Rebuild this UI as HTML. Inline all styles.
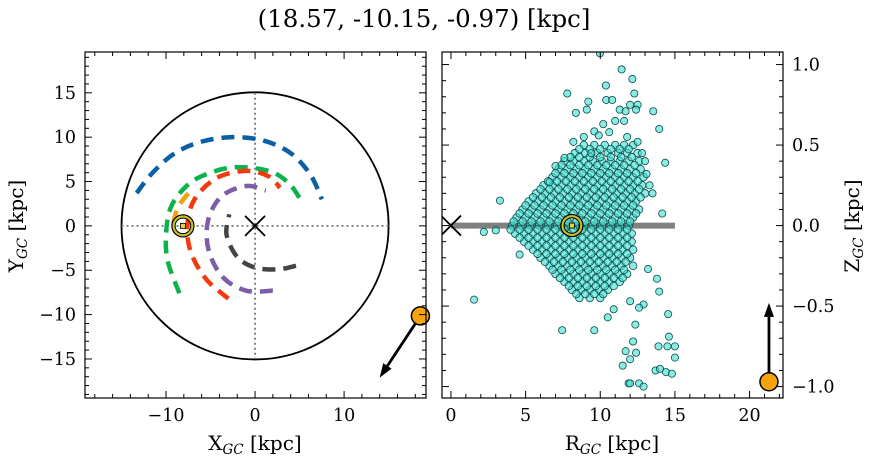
<!DOCTYPE html>
<html><head><meta charset="utf-8"><style>
html,body{margin:0;padding:0;background:#fff;}
svg{display:block;font-family:"DejaVu Serif","Liberation Serif",serif;}
</style></head><body>
<svg id="fig" width="874" height="464" viewBox="0 0 874 464">
<text x="424" y="27" text-anchor="middle" font-size="24.5">(18.57, -10.15, -0.97) [kpc]</text>
<g id="left"></g>
<g id="right"></g>
</svg>
<script>
// ---- data: left panel orbits (x,y in kpc) ----
const orbitBlue = [[-13.3,3.7],[-11.5,6],[-9,8.2],[-6,9.5],[-2.5,10],[1,9.6],[4,8.2],[6.2,5.8],[7.5,3]];
const orbitGreen = [[-8.5,-7.6],[-9.8,-4],[-10,-1],[-9.5,2],[-8,4.2],[-6,5.6],[-2.5,6.6],[1.5,6.2],[3.8,4.8],[5.2,2.8]];
const orbitRed = [[-3,-8.2],[-5.5,-6],[-7.2,-3],[-7.6,0],[-6.8,3],[-4.3,5.4],[-1,6.2],[1.5,5.6],[2.8,4.3]];
const orbitPurple = [[2,-7.3],[-1,-7.3],[-3.6,-5.8],[-5.2,-2.8],[-5.3,0.5],[-3.8,3.3],[-1,4.5],[1.2,4]];
const orbitGray = [[4.6,-4.5],[2.5,-4.9],[0,-4.7],[-2,-3.5],[-3.2,-1],[-2.9,1.3]];
const orbitOrange = [[-9.2,0.3],[-8.6,2.2],[-7.3,3.9]];
const sunXY = [-8.1, 0];
const targetXY = [18.57, -10.15];
const arrowXY = [14.0, -17.1];
const targetRZ = [21.3, -0.97];
const arrowRZ = [21.3, -0.48];
const diskR = 15;
// ---- scatter: outliers ----
const outR = [9.98,11.43,12.15,7.79,10.38,12.28,9.2,10.4,10.8,12.0,12.5,12.4,8.37,9.1,11.3,11.7,13.55,13.95,9.6,11.0,11.6,10.2,14.35,7.0,3.28,14.15,2.2,3.0,1.55,4.6,7.45,9.6,14.55,14.6,13.9,14.5,15.0,15.0,12.2,12.4,11.7,12.0,11.5,13.7,14.0,14.4,14.8,11.9,12.0,12.6,12.9,12.35,13.95,13.8,12.0,12.9,12.6,10.9,10.5,13.3,13.1,12.8,8.9,9.4,6.6,13.5,13.2,9.9,10.6,11.8,12.5,13.0,8.2,7.6];
const outZ = [1.07,0.97,0.91,0.82,0.87,0.82,0.77,0.78,0.78,0.75,0.75,0.72,0.70,0.72,0.72,0.71,0.71,0.60,0.585,0.65,0.65,0.63,0.39,0.37,0.155,0.075,-0.04,-0.03,-0.46,-0.18,-0.65,-0.65,-0.55,-0.69,-0.75,-0.75,-0.75,-0.82,-0.72,-0.79,-0.78,-0.83,-0.87,-0.90,-0.89,-0.91,-0.92,-0.98,-0.98,-0.98,-1.0,-0.615,-0.41,-0.33,-0.47,-0.49,-0.51,-0.52,-0.57,0.25,0.32,0.45,0.55,0.45,0.27,0.2,-0.27,0.56,0.58,0.55,0.52,0.4,0.52,0.42];
// ---- scatter: dense core rows ----
const coreZ = [0.50,0.45,0.40,0.35,0.30,0.25,0.20,0.15,0.10,0.05,0.00,-0.05,-0.10,-0.15,-0.20,-0.25,-0.30,-0.35,-0.40,-0.45,
 0.475,0.425,0.375,0.325,0.275,0.225,0.175,0.125,0.075,0.025,-0.025,-0.075,-0.125,-0.175,-0.225,-0.275,-0.325,-0.375,-0.425];
const coreR = [
 [8.9,9.6,10.3,11.0,11.6,12.2],
 [8.3,9.0,9.8,10.5,11.2,11.8,12.5],
 [7.6,8.2,8.9,9.5,10.1,10.7,11.3,11.9,12.6],
 [7.2,7.8,8.4,9.0,9.6,10.2,10.8,11.4,12.0,12.7],
 [6.8,7.4,8.0,8.6,9.2,9.8,10.4,11.0,11.6,12.2,12.9],
 [6.2,6.8,7.4,8.0,8.6,9.2,9.8,10.4,11.0,11.6,12.2,12.8],
 [5.7,6.3,6.9,7.5,8.1,8.7,9.3,9.9,10.5,11.1,11.7,12.3,13.0],
 [5.2,5.8,6.4,7.0,7.6,8.2,8.8,9.4,10.0,10.6,11.2,11.8,12.4],
 [4.8,5.4,6.0,6.6,7.2,7.8,8.4,9.0,9.6,10.2,10.8,11.4,12.0,12.6],
 [4.4,5.0,5.6,6.2,6.8,7.4,8.0,8.6,9.2,9.8,10.4,11.0,11.6,12.2],
 [4.1,4.7,5.3,5.9,6.5,7.1,7.7,8.3,8.9,9.5,10.1,10.7,11.3,11.9],
 [4.3,4.9,5.5,6.1,6.7,7.3,7.9,8.5,9.1,9.7,10.3,10.9,11.5,12.1],
 [4.9,5.5,6.1,6.7,7.3,7.9,8.5,9.1,9.7,10.3,10.9,11.5,12.1],
 [5.5,6.1,6.7,7.3,7.9,8.5,9.1,9.7,10.3,10.9,11.5,12.2],
 [6.0,6.6,7.2,7.8,8.4,9.0,9.6,10.2,10.8,11.4,12.0],
 [6.6,7.2,7.8,8.4,9.0,9.6,10.2,10.8,11.4,12.2],
 [7.0,7.6,8.2,8.8,9.4,10.0,10.6,11.2,11.8],
 [7.6,8.2,8.8,9.4,10.0,10.6,11.3],
 [8.1,8.7,9.3,9.9,10.5],
 [8.6,9.3,10.0],
 [8.6,9.3,10.0,10.7,11.3,11.9],
 [8.0,8.6,9.3,10.0,10.7,11.4,12.1],
 [7.4,8.0,8.6,9.2,9.8,10.4,11.0,11.6,12.3],
 [7.0,7.6,8.2,8.8,9.4,10.0,10.6,11.2,11.8,12.4],
 [6.5,7.1,7.7,8.3,8.9,9.5,10.1,10.7,11.3,11.9,12.5],
 [6.0,6.6,7.2,7.8,8.4,9.0,9.6,10.2,10.8,11.4,12.0,12.6],
 [5.5,6.1,6.7,7.3,7.9,8.5,9.1,9.7,10.3,10.9,11.5,12.1,12.7],
 [5.0,5.6,6.2,6.8,7.4,8.0,8.6,9.2,9.8,10.4,11.0,11.6,12.2],
 [4.6,5.2,5.8,6.4,7.0,7.6,8.2,8.8,9.4,10.0,10.6,11.2,11.8,12.4],
 [4.2,4.8,5.4,6.0,6.6,7.2,7.8,8.4,9.0,9.6,10.2,10.8,11.4,12.0],
 [4.0,4.6,5.2,5.8,6.4,7.0,7.6,8.2,8.8,9.4,10.0,10.6,11.2,11.8],
 [4.6,5.2,5.8,6.4,7.0,7.6,8.2,8.8,9.4,10.0,10.6,11.2,11.8],
 [5.2,5.8,6.4,7.0,7.6,8.2,8.8,9.4,10.0,10.6,11.2,11.8],
 [5.8,6.4,7.0,7.6,8.2,8.8,9.4,10.0,10.6,11.2,11.8],
 [6.3,6.9,7.5,8.1,8.7,9.3,9.9,10.5,11.1,11.7],
 [6.8,7.4,8.0,8.6,9.2,9.8,10.4,11.0,11.6],
 [7.3,7.9,8.5,9.1,9.7,10.3,10.9,11.5],
 [7.9,8.5,9.1,9.7,10.3,10.9],
 [8.4,9.0,9.6,10.2]
];
const leftXTicks = [-10,0,10];
const leftYTicks = [-15,-10,-5,0,5,10,15];
const rightXTicks = [0,5,10,15,20];
const rightYTicks = [-1.0,-0.5,0.0,0.5,1.0];

const NS = "http://www.w3.org/2000/svg";
function mk(parent, tag, attrs){ const e=document.createElementNS(NS,tag); for(const k in attrs) e.setAttribute(k,attrs[k]); parent.appendChild(e); return e; }

const L = {x0:85,x1:426,y0:52,y1:398, xmin:-19.1,xmax:19.2, ymin:-19.4,ymax:19.6};
const R = {x0:442,x1:783,y0:52,y1:398, xmin:-0.6,xmax:22.24, ymin:-1.071,ymax:1.078};
function sx(A,v){return A.x0+(v-A.xmin)/(A.xmax-A.xmin)*(A.x1-A.x0);}
function sy(A,v){return A.y1-(v-A.ymin)/(A.ymax-A.ymin)*(A.y1-A.y0);}

function smoothPath(A,pts){
  const p=pts.map(q=>[sx(A,q[0]),sy(A,q[1])]);
  let d="M"+p[0][0]+","+p[0][1];
  for(let i=0;i<p.length-1;i++){
    const p0=p[i-1]||p[i],p1=p[i],p2=p[i+1],p3=p[i+2]||p[i+1];
    const c1=[p1[0]+(p2[0]-p0[0])/6,p1[1]+(p2[1]-p0[1])/6];
    const c2=[p2[0]-(p3[0]-p1[0])/6,p2[1]-(p3[1]-p1[1])/6];
    d+=" C"+c1[0]+","+c1[1]+" "+c2[0]+","+c2[1]+" "+p2[0]+","+p2[1];
  }
  return d;
}

function drawTicks(g,A,xMajor,xMinorStep,yMajor,yMinorStep,labelLeft,labelRight,fmtY){
  const ticks=mk(g,'g',{stroke:'#000','stroke-width':1});
  
  
  const xstep=xMajor[1]-xMajor[0];
  const xs=Math.ceil(A.xmin/xMinorStep), xe=Math.floor(A.xmax/xMinorStep);
  for(let i=xs;i<=xe;i++){const v=i*xMinorStep; const X=sx(A,v);
    const major=Math.abs(v/xstep-Math.round(v/xstep))<1e-6;
    const len=major?7:4;
    mk(ticks,'line',{x1:X,x2:X,y1:A.y1,y2:A.y1-len}); mk(ticks,'line',{x1:X,x2:X,y1:A.y0,y2:A.y0+len});}
  const ys=Math.ceil(A.ymin/yMinorStep-1e-6), ye=Math.floor(A.ymax/yMinorStep+1e-6);
  const ystep=yMajor[1]-yMajor[0];
  for(let i=ys;i<=ye;i++){const v=i*yMinorStep; const Y=sy(A,v);
    const major=Math.abs(v/ystep-Math.round(v/ystep))<1e-6;
    const len=major?7:4;
    mk(ticks,'line',{x1:A.x0,x2:A.x0+len,y1:Y,y2:Y}); mk(ticks,'line',{x1:A.x1,x2:A.x1-len,y1:Y,y2:Y});}
  xMajor.forEach(v=>{const t=mk(g,'text',{x:sx(A,v),y:A.y1+23,'text-anchor':'middle','font-size':17.5});
    t.textContent=(v<0?'\u2212'+(-v):v);
    
    });
  yMajor.forEach(v=>{const t=mk(g,'text',{x:labelLeft?A.x0-9:A.x1+9,y:sy(A,v)+6,'text-anchor':labelLeft?'end':'start','font-size':17.5});
    t.textContent=fmtY(v);
    
    });
}

// ---------- LEFT PANEL ----------
const gl=document.getElementById('left');
const circ=mk(gl,'circle',{cx:sx(L,0),cy:sy(L,0),r:sx(L,diskR)-sx(L,0),fill:'none',stroke:'#000','stroke-width':1.8});


const gx=mk(gl,'line',{x1:sx(L,-diskR),x2:sx(L,diskR),y1:sy(L,0),y2:sy(L,0),stroke:'#777','stroke-width':1.8,'stroke-dasharray':'2,3'});


const gy=mk(gl,'line',{x1:sx(L,0),x2:sx(L,0),y1:sy(L,diskR),y2:sy(L,-diskR),stroke:'#777','stroke-width':1.8,'stroke-dasharray':'2,3'});


[[orbitBlue,'#0b5fa5','orbit-blue'],[orbitGreen,'#0db24d','orbit-green'],[orbitRed,'#f5380d','orbit-red'],[orbitPurple,'#7b5ea7','orbit-purple'],[orbitGray,'#444','orbit-gray'],[orbitOrange,'#f5a00d','orbit-orange']].forEach(o=>{
  const p=mk(gl,'path',{d:smoothPath(L,o[0]),fill:'none',stroke:o[1],'stroke-width':4.5,'stroke-dasharray':'13,8'});
  
  
});
function xMark(g,X,Y,s){const m=mk(g,'path',{d:`M${X-s},${Y-s}L${X+s},${Y+s}M${X-s},${Y+s}L${X+s},${Y-s}`,stroke:'#000','stroke-width':1.8});
  
  }
xMark(gl,sx(L,0),sy(L,0),10);
function sun(g,X,Y){const s=mk(g,'g',{});
  
  
  mk(s,'circle',{cx:X,cy:Y,r:11,fill:'none',stroke:'#000','stroke-width':1.3});
  mk(s,'circle',{cx:X,cy:Y,r:9.3,fill:'none',stroke:'#c8c020','stroke-width':2.2});
  mk(s,'circle',{cx:X,cy:Y,r:7.8,fill:'none',stroke:'#000','stroke-width':1});
  mk(s,'rect',{x:X-2.5,y:Y-2.5,width:5,height:5,fill:'#dcd43a',stroke:'#000','stroke-width':0.8});}
sun(gl,sx(L,sunXY[0]),sy(L,sunXY[1]));
function arrow(g,x1,y1,x2,y2,name){const a=mk(g,'g',{});
  
  
  const dx=x2-x1,dy=y2-y1,l=Math.hypot(dx,dy),ux=dx/l,uy=dy/l,h=14,w=5;
  const bx=x2-ux*h,by=y2-uy*h;
  mk(a,'line',{x1:x1,y1:y1,x2:bx,y2:by,stroke:'#000','stroke-width':2.8});
  mk(a,'polygon',{points:`${x2},${y2} ${bx-uy*w},${by+ux*w} ${bx+uy*w},${by-ux*w}`,fill:'#000'});}
arrow(gl,sx(L,targetXY[0]),sy(L,targetXY[1]),sx(L,arrowXY[0]),sy(L,arrowXY[1]),'velocity-arrow-xy');
const tb=mk(gl,'circle',{cx:sx(L,targetXY[0]),cy:sy(L,targetXY[1]),r:9,fill:'#f5a40d',stroke:'#000','stroke-width':1.5});


const fl=mk(gl,'rect',{x:L.x0,y:L.y0,width:L.x1-L.x0,height:L.y1-L.y0,fill:'none',stroke:'#000','stroke-width':1.2});


drawTicks(gl,L,leftXTicks,2,leftYTicks,1,true,false,v=>v<0?'\u2212'+(-v):String(v));
const sub='<tspan font-size="13.5" font-style="italic" dy="4">GC</tspan><tspan dy="-4"> [kpc]</tspan>';
const xl=mk(gl,'text',{x:255,y:450,'text-anchor':'middle','font-size':20});
xl.innerHTML='X'+sub;


const yl=mk(gl,'text',{x:0,y:0,'text-anchor':'middle','font-size':20,transform:'translate(23,226) rotate(-90)'});
yl.innerHTML='Y'+sub;



// ---------- RIGHT PANEL ----------
const gr=document.getElementById('right');
const clip=mk(gr,'clipPath',{id:'rc'}); mk(clip,'rect',{x:R.x0,y:R.y0,width:R.x1-R.x0,height:R.y1-R.y0});
const inner=mk(gr,'g',{'clip-path':'url(#rc)'});
const dl=mk(inner,'line',{x1:sx(R,0),x2:sx(R,diskR),y1:sy(R,0),y2:sy(R,0),stroke:'#808080','stroke-width':6});


const pts=mk(inner,'g',{fill:'rgba(64,224,208,0.6)',stroke:'#0a4a4a','stroke-width':0.8});


coreZ.forEach((z,i)=>coreR[i].forEach(r=>{const c=mk(pts,'circle',{cx:sx(R,r),cy:sy(R,z),r:3.8});
  
  }));
outR.forEach((r,i)=>{const c=mk(pts,'circle',{cx:sx(R,r),cy:sy(R,outZ[i]),r:3.6});
  
  });
xMark(inner,sx(R,0),sy(R,0),10);
sun(inner,sx(R,-sunXY[0]),sy(R,0));
arrow(inner,sx(R,targetRZ[0]),sy(R,targetRZ[1]),sx(R,arrowRZ[0]),sy(R,arrowRZ[1]),'velocity-arrow-rz');
const tb2=mk(inner,'circle',{cx:sx(R,targetRZ[0]),cy:sy(R,targetRZ[1]),r:9,fill:'#f5a40d',stroke:'#000','stroke-width':1.5});


const fr=mk(gr,'rect',{x:R.x0,y:R.y0,width:R.x1-R.x0,height:R.y1-R.y0,fill:'none',stroke:'#000','stroke-width':1.2});


drawTicks(gr,R,rightXTicks,1,rightYTicks,0.1,false,true,v=>(v<0?'\u2212':'')+Math.abs(v).toFixed(1));
const xl2=mk(gr,'text',{x:612,y:450,'text-anchor':'middle','font-size':20});
xl2.innerHTML='R'+sub;


const yl2=mk(gr,'text',{x:0,y:0,'text-anchor':'middle','font-size':20,transform:'translate(859,226) rotate(-90)'});
yl2.innerHTML='Z'+sub;


</script>
</body></html>
